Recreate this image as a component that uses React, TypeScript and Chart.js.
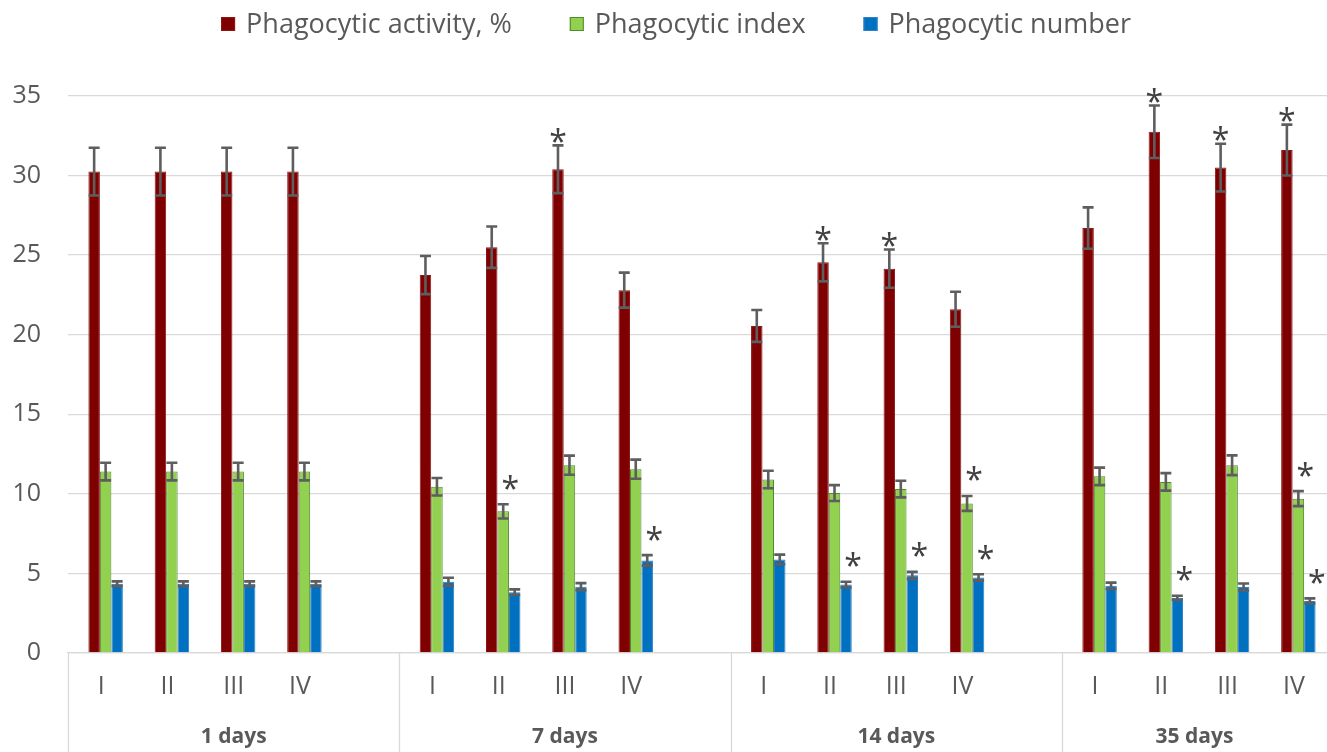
import React, { useEffect, useRef } from 'react';
import { Chart, registerables } from 'chart.js';

Chart.register(...registerables);

// ---------- data ----------
const groups = ['1 days', '7 days', '14 days', '35 days'];
const subgroups = ['I', 'II', 'III', 'IV'];
const seriesNames = ['Phagocytic activity, %', 'Phagocytic index', 'Phagocytic number'];

const activity = [30.25, 30.25, 30.25, 30.25, 23.75, 25.5, 30.4, 22.8, 20.55, 24.55, 24.15, 21.6, 26.7, 32.75, 30.5, 31.6];
const activityErr = [1.5, 1.5, 1.5, 1.5, 1.2, 1.3, 1.5, 1.1, 1.0, 1.2, 1.2, 1.1, 1.3, 1.65, 1.5, 1.6];
const phIndex = [11.4, 11.4, 11.4, 11.4, 10.45, 8.9, 11.8, 11.55, 10.9, 10.05, 10.3, 9.4, 11.1, 10.75, 11.8, 9.7];
const phIndexErr = [0.55, 0.55, 0.55, 0.55, 0.55, 0.45, 0.6, 0.6, 0.55, 0.5, 0.52, 0.47, 0.55, 0.55, 0.62, 0.47];
const phNumber = [4.35, 4.35, 4.35, 4.35, 4.48, 3.82, 4.17, 5.82, 5.88, 4.3, 4.88, 4.75, 4.22, 3.47, 4.15, 3.27];
const phNumberErr = [0.15, 0.15, 0.15, 0.15, 0.25, 0.18, 0.22, 0.33, 0.3, 0.18, 0.22, 0.2, 0.2, 0.13, 0.22, 0.16];

// significance marks: [group, subgroup, series]
const significance = [
  [1, 2, 0], [1, 1, 1], [1, 3, 2],
  [2, 1, 0], [2, 2, 0], [2, 1, 2], [2, 2, 2], [2, 3, 1], [2, 3, 2],
  [3, 1, 0], [3, 2, 0], [3, 3, 0], [3, 1, 2], [3, 3, 1], [3, 3, 2],
];

const yMin = 0;
const yMax = 35;
const yStep = 5;

// ---------- styling ----------
const FONT = "'Open Sans', 'Noto Sans', sans-serif";
const TEXT = '#595959';
const GRID = '#d9d9d9';
const colors = ['#7f0000', '#92d050', '#0070c0'];
const borders = ['#8e1616', '#4f8a2c', '#2f7fc4'];
const BAR_SHIFT = 4.5;

// build slotted arrays: an empty slot between groups
function slotted<T>(arr: T[], empty: T): T[] {
  const out: T[] = [];
  groups.forEach((_, gi) => {
    subgroups.forEach((_, si) => out.push(arr[gi * subgroups.length + si]));
    if (gi < groups.length - 1) out.push(empty);
  });
  return out;
}
function slotIndex(g: number, s: number) {
  return g * (subgroups.length + 1) + s;
}

const labels = slotted(groups.flatMap(() => subgroups), '');
const values = [activity, phIndex, phNumber].map((a) => slotted<number | null>(a, null));
const errors = [activityErr, phIndexErr, phNumberErr].map((a) => slotted<number | null>(a, null));

const overlay = {
  id: 'overlay',
  beforeDatasetsDraw(chart: any) {
    chart.ctx.save();
    chart.ctx.translate(BAR_SHIFT, 0);
  },
  afterDatasetsDraw(chart: any) {
    const ctx = chart.ctx as CanvasRenderingContext2D;
    const ys = chart.scales.y;
    // error bars
    ctx.strokeStyle = '#5e5e5e';
    ctx.lineWidth = 2.6;
    ctx.lineCap = 'butt';
    values.forEach((vals, d) => {
      const meta = chart.getDatasetMeta(d);
      vals.forEach((v, i) => {
        const e = errors[d][i];
        if (v == null || e == null) return;
        const x = meta.data[i].x;
        const yt = ys.getPixelForValue(v + e);
        const yb = ys.getPixelForValue(v - e);
        ctx.beginPath();
        ctx.moveTo(x, yt);
        ctx.lineTo(x, yb);
        ctx.moveTo(x - 5.5, yt);
        ctx.lineTo(x + 5.5, yt);
        ctx.moveTo(x - 5.5, yb);
        ctx.lineTo(x + 5.5, yb);
        ctx.stroke();
      });
    });
    // asterisks
    ctx.fillStyle = '#404040';
    ctx.font = `32px ${FONT}`;
    ctx.textAlign = 'center';
    ctx.textBaseline = 'alphabetic';
    const m = ctx.measureText('*');
    const mid = (m.actualBoundingBoxAscent - m.actualBoundingBoxDescent) / 2;
    significance.forEach(([g, s, d]) => {
      const i = slotIndex(g, s);
      const v = values[d][i] as number;
      const e = errors[d][i] as number;
      const x = chart.getDatasetMeta(d).data[i].x + (d === 0 ? 0 : 7);
      const yt = ys.getPixelForValue(v + e);
      const y = yt - (d === 0 ? 10 : 22);
      ctx.fillText('*', x, y + mid);
    });
    ctx.restore();
  },
  afterDraw(chart: any) {
    const ctx = chart.ctx as CanvasRenderingContext2D;
    const area = chart.chartArea;
    const xs = chart.scales.x;
    const slotW = (area.right - area.left) / labels.length;
    ctx.save();
    // separators
    ctx.strokeStyle = GRID;
    ctx.lineWidth = 1.3;
    ctx.beginPath();
    groups.forEach((_, gi) => {
      const x = Math.round(area.left + gi * (subgroups.length + 1) * slotW) + 0.5;
      ctx.moveTo(x, area.bottom);
      ctx.lineTo(x, chart.height);
    });
    ctx.stroke();
    // sub labels
    ctx.fillStyle = TEXT;
    ctx.textAlign = 'center';
    ctx.textBaseline = 'middle';
    ctx.font = `25px ${FONT}`;
    labels.forEach((l, i) => {
      if (!l) return;
      ctx.fillText(l, xs.getPixelForValue(i), 687);
    });
    // group labels
    ctx.font = `bold 21px ${FONT}`;
    groups.forEach((g, gi) => {
      const start = gi * (subgroups.length + 1);
      const end = Math.min(start + subgroups.length + 1, labels.length);
      const cx = area.left + ((start + end) / 2) * slotW;
      ctx.fillText(g, cx, 737);
    });
    // legend
    ctx.font = `27px ${FONT}`;
    const box = 14;
    const gapBox = 11;
    const gapItem = 58;
    const widths = seriesNames.map((n) => box + gapBox + ctx.measureText(n).width);
    const total = widths.reduce((a, b) => a + b, 0) + gapItem * (widths.length - 1);
    let x = 676 - total / 2;
    const ly = 24;
    ctx.textAlign = 'left';
    seriesNames.forEach((n, i) => {
      ctx.fillStyle = colors[i];
      ctx.fillRect(x, ly - box / 2, box, box);
      ctx.strokeStyle = borders[i];
      ctx.lineWidth = 1;
      ctx.strokeRect(x + 0.5, ly - box / 2 + 0.5, box - 1, box - 1);
      ctx.fillStyle = TEXT;
      ctx.fillText(n, x + box + gapBox, ly + 1);
      x += widths[i] + gapItem;
    });
    ctx.restore();
  },
};

export default function App() {
  const ref = useRef<HTMLCanvasElement>(null);
  useEffect(() => {
    if (!ref.current) return;
    const chart = new Chart(ref.current, {
      type: 'bar',
      data: {
        labels,
        datasets: values.map((v, d) => ({
          label: seriesNames[d],
          data: v,
          backgroundColor: colors[d],
          borderColor: borders[d],
          borderWidth: 1,
          barPercentage: 1,
          categoryPercentage: 0.52,
        })),
      },
      options: {
        responsive: false,
        maintainAspectRatio: false,
        animation: false,
        layout: { padding: { top: 96, left: 0, right: 0, bottom: 0 } },
        plugins: { legend: { display: false }, tooltip: { enabled: false } },
        scales: {
          x: {
            ticks: { display: false },
            grid: { display: false },
            border: { display: true, color: GRID, width: 1.3 },
            afterFit(s: any) {
              s.height = 99;
            },
          },
          y: {
            min: yMin,
            max: yMax,
            ticks: { stepSize: yStep, padding: 27, color: TEXT, font: { family: FONT, size: 25 } },
            grid: { color: GRID, lineWidth: 1.3, drawTicks: false },
            border: { display: false },
            afterFit(s: any) {
              s.width = 68;
            },
          },
        },
      },
      plugins: [overlay],
    });
    return () => chart.destroy();
  }, []);
  return (
    <div style={{ position: 'fixed', left: 0, top: 0, width: 1327, height: 752, background: '#fff' }}>
      <canvas ref={ref} width={1327} height={752} style={{ display: 'block' }} />
    </div>
  );
}
